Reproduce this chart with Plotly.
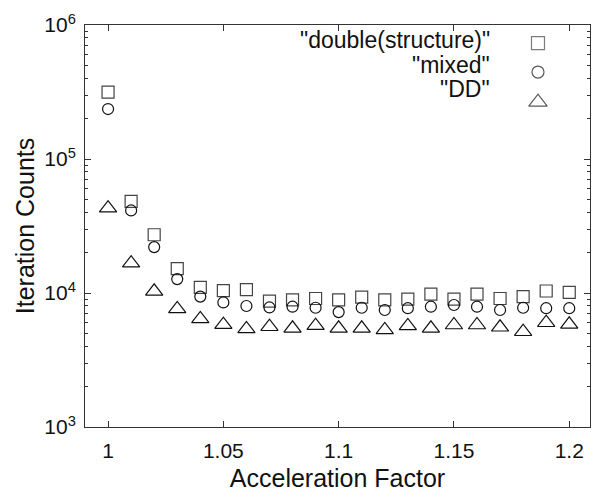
import plotly.graph_objects as go

x_vals = [1.00, 1.01, 1.02, 1.03, 1.04, 1.05, 1.06, 1.07, 1.08, 1.09, 1.10,
          1.11, 1.12, 1.13, 1.14, 1.15, 1.16, 1.17, 1.18, 1.19, 1.20]
double_structure = [316000, 48300, 27200, 15200, 11000, 10400, 10600, 8700, 8900, 9100, 8900,
                    9300, 8900, 9000, 9800, 9000, 9800, 9100, 9400, 10350, 10100]
mixed = [236000, 41300, 22000, 12700, 9400, 8500, 8000, 7800, 7900, 7760, 7200,
         7760, 7470, 7700, 7900, 8140, 7900, 7470, 7760, 7700, 7700]
dd = [43000, 16700, 10300, 7600, 6400, 5800, 5400, 5600, 5450, 5700, 5450,
      5450, 5300, 5680, 5450, 5770, 5770, 5550, 5140, 6000, 5840]

series_names = ['"double(structure)"', '"mixed"', '"DD"']
y_tickvals = [1e3, 1e4, 1e5, 1e6]
y_ticktext = ["10<sup>3</sup>", "10<sup>4</sup>", "10<sup>5</sup>", "10<sup>6</sup>"]
x_tickvals = [1.0, 1.05, 1.1, 1.15, 1.2]
x_ticktext = ["1", "1.05", "1.1", "1.15", "1.2"]

FONT = "Liberation Sans Narrow, Arial Narrow, Liberation Sans, Arial, sans-serif"
styles = [
    dict(symbol="square-open", size=12, color="#444444"),
    dict(symbol="circle-open", size=11, color="#111111"),
    dict(symbol="triangle-up-open", size=15, color="#111111"),
]

fig = go.Figure()
for name, ys, st in zip(series_names, [double_structure, mixed, dd], styles):
    fig.add_trace(go.Scatter(x=x_vals, y=ys, mode="markers", name=name,
                             marker=dict(symbol=st["symbol"], size=st["size"],
                                         color=st["color"], line=dict(width=1.2, color=st["color"])),
                             showlegend=False))

# custom legend (text left, marker right) on an overlay axis
legend_marker_y = [0.955, 0.883, 0.808]
legend_text_y = [0.963, 0.9, 0.84]
fig.add_trace(go.Scatter(x=[0.897] * 3, y=legend_marker_y, mode="markers", xaxis="x2", yaxis="y2",
                         showlegend=False, hoverinfo="skip",
                         marker=dict(symbol=[s["symbol"] for s in styles],
                                     size=[s["size"] + 1 for s in styles],
                                     color=[s["color"] for s in styles],
                                     line=dict(width=1.2, color=[s["color"] for s in styles]))))
for name, ly in zip(series_names, legend_text_y):
    fig.add_annotation(x=0.806, y=ly, xref="paper", yref="paper", text=name,
                       showarrow=False, xanchor="right", yanchor="middle",
                       font=dict(family=FONT, size=23, color="#111111"))

axis_common = dict(showline=True, linecolor="#333333", linewidth=1, mirror="ticks",
                   ticks="inside", tickcolor="#333333", showgrid=False, zeroline=False,
                   automargin=False)

# page body has an 8px default margin, so the figure is sized/offset to compensate
fig.update_layout(
    width=592, height=486,
    margin=dict(l=77, r=10, t=17, b=67),
    paper_bgcolor="white", plot_bgcolor="white",
    font=dict(family=FONT, size=21, color="#111111"),
    xaxis=dict(range=[0.99, 1.209], tickvals=x_tickvals, ticktext=x_ticktext, ticklen=6,
               ticklabelstandoff=5,
               title=dict(text="Acceleration Factor", font=dict(size=25), standoff=8),
               **axis_common),
    yaxis=dict(type="log", range=[3, 6], tickvals=y_tickvals, ticktext=y_ticktext, ticklen=6,
               ticklabelstandoff=4,
               minor=dict(ticks="inside", ticklen=3, tickcolor="#333333",
                          tickvals=[m * 10 ** e for e in (3, 4, 5) for m in range(2, 10)]),
               title=dict(text="Iteration Counts", font=dict(size=25), standoff=2),
               **axis_common),
    xaxis2=dict(range=[0, 1], overlaying="x", visible=False),
    yaxis2=dict(range=[0, 1], overlaying="y", visible=False),
)

fig.write_html("out.html")
